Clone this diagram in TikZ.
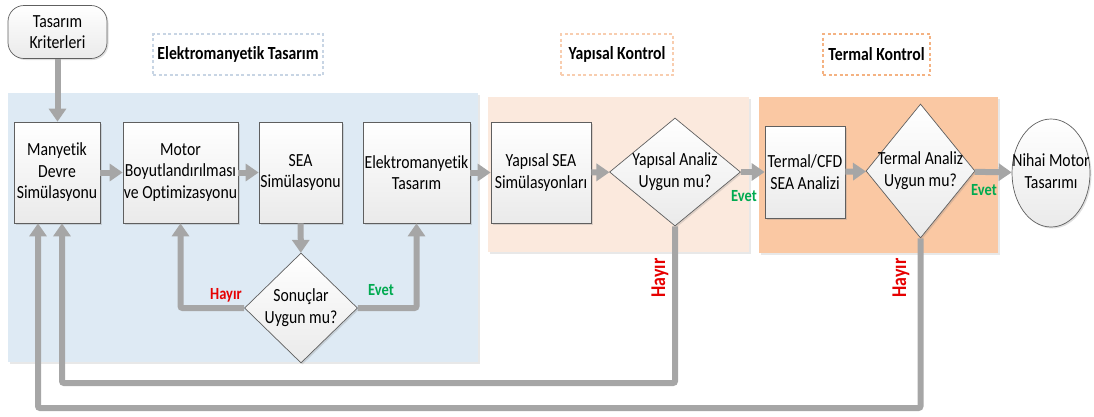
\documentclass[tikz,border=0pt]{standalone}
\usepackage{fontspec}
\setmainfont{Carlito}[FakeStretch=0.85, Ligatures=NoCommon]
\usetikzlibrary{positioning,arrows.meta,calc,shadows,shapes.geometric}
\definecolor{fbBlue}{RGB}{222,234,244}
\definecolor{fbPeach}{RGB}{251,233,221}
\definecolor{fbOrange}{RGB}{250,200,163}
\definecolor{fbGray}{RGB}{166,166,166}
\definecolor{fbEdge}{RGB}{95,95,95}
\definecolor{fbLow}{RGB}{234,234,234}
\definecolor{fbRed}{RGB}{230,0,0}
\definecolor{fbGreen}{RGB}{0,170,80}
\definecolor{fbBlueDash}{RGB}{200,213,228}
\definecolor{fbPeachDash}{RGB}{248,205,175}
\definecolor{fbOrangeDash}{RGB}{244,178,130}
\newcommand{\boxfont}{\fontsize{18.5}{21.5}\selectfont}
\newcommand{\dtext}[1]{\makebox[0pt]{\begin{tabular}{@{}c@{}}#1\end{tabular}}}

\begin{document}
\begin{tikzpicture}[x=1pt,y=-1pt,
  flowbox/.style={draw=fbEdge, line width=0.7pt, top color=white, bottom color=fbLow,
    align=center, inner sep=0pt, font=\boxfont,
    drop shadow={opacity=0.25, shadow xshift=1.5pt, shadow yshift=-1.5pt}},
  decision/.style={flowbox, shape=diamond},
  finalbox/.style={flowbox, shape=ellipse},
  region/.style={drop shadow={opacity=0.18, shadow xshift=2pt, shadow yshift=-2pt}},
  titlebox/.style={line width=1.3pt, dash pattern=on 3pt off 2.5pt, inner sep=0pt,
    minimum height=41, font=\fontsize{18.5}{21}\selectfont\bfseries},
  flow/.style={draw=fbGray, line width=6pt, rounded corners=2pt,
    -{Triangle[length=13pt,width=17pt]}},
  nolbl/.style={text=fbRed, font=\fontsize{17}{20}\selectfont\bfseries, inner sep=0pt},
  yeslbl/.style={text=fbGreen, font=\fontsize{17}{20}\selectfont\bfseries, inner sep=0pt}]
  \useasboundingbox (0,0) rectangle (1094,416);

  % Background regions
  \fill[fbBlue, region] (8,93) rectangle (478,362);
  \fill[fbPeach, region] (488,97) rectangle (749,252);
  \fill[fbOrange, region] (759,97) rectangle (998,253);

  % Region titles
  \node[titlebox, draw=fbBlueDash, minimum width=170] (emtitle) at (238,54.5) {Elektromanyetik Tasarım};
  \node[titlebox, draw=fbPeachDash, minimum width=112] (ytitle) at (617,54.5) {Yapısal Kontrol};
  \node[titlebox, draw=fbOrangeDash, minimum width=107] (ttitle) at (876.5,54.5) {Termal Kontrol};

  % Start
  \node[flowbox, rounded corners=16pt, minimum width=99, minimum height=53] (kriter) at (57.5,32) {Tasarım\\Kriterleri};

  % Electromagnetic design
  \node[flowbox, minimum width=86, minimum height=101] (mds) at (57,172.5) {Manyetik\\Devre\\Simülasyonu};
  \node[flowbox, minimum width=115, minimum height=101] (motor) at (180.5,172.5) {Motor\\Boyutlandırılması\\ve Optimizasyonu};
  \node[flowbox, minimum width=83, minimum height=101] (sea) at (300.5,172.5) {SEA\\Simülasyonu};
  \node[flowbox, minimum width=107, minimum height=101] (emt) at (416.5,172.5) {Elektromanyetik\\Tasarım};
  \node[decision, minimum width=113, minimum height=110] (sonuc) at (301,308) {\dtext{Sonuçlar\\Uygun mu?}};

  % Structural and thermal checks
  \node[flowbox, minimum width=100, minimum height=101] (ysea) at (541,172.5) {Yapısal SEA\\Simülasyonları};
  \node[decision, minimum width=131, minimum height=108] (ydia) at (675,172) {\dtext{Yapısal Analiz\\Uygun mu?}};
  \node[flowbox, minimum width=80, minimum height=92] (tcfd) at (805,172) {Termal/CFD\\SEA Analizi};
  \node[decision, minimum width=109, minimum height=134] (tdia) at (920.5,171) {\dtext{Termal Analiz\\Uygun mu?}};
  \node[finalbox, minimum width=78, minimum height=108] (nihai) at (1051,173) {\dtext{Nihai Motor\\Tasarımı}};

  % Main flow
  \draw[flow] (kriter) -- (kriter |- mds.north);
  \draw[flow] (mds) -- (motor);
  \draw[flow] (motor) -- (sea);
  \draw[flow] (sea) -- (sonuc);
  \draw[flow] (sonuc.west) -| (motor.south);
  \draw[flow] (sonuc.east) -| (emt.south);
  \draw[flow] (emt) -- (ysea);
  \draw[flow] (ysea) -- (ydia);
  \draw[flow] (ydia) -- (tcfd);
  \draw[flow] (tcfd) -- (tdia);
  \draw[flow] (tdia) -- (nihai);

  % Feedback loops
  \coordinate (loopA) at (62,383);
  \coordinate (loopB) at (38,408);
  \draw[flow] (ydia.south) |- (loopA) -- (loopA |- mds.south);
  \draw[flow] (tdia.south) |- (loopB) -- (loopB |- mds.south);

  % Labels
  \node[nolbl] (hayir1) at (226,295) {Hayır};
  \node[yeslbl] (evet1) at (381,290) {Evet};
  \node[yeslbl] (evet2) at (744,196) {Evet};
  \node[yeslbl] (evet3) at (984,190) {Evet};
  \node[nolbl, rotate=90, font=\fontsize{21}{24}\selectfont\bfseries] (hayir2) at (660,278) {Hayır};
  \node[nolbl, rotate=90, font=\fontsize{21}{24}\selectfont\bfseries] (hayir3) at (901,278) {Hayır};
\end{tikzpicture}
\end{document}
